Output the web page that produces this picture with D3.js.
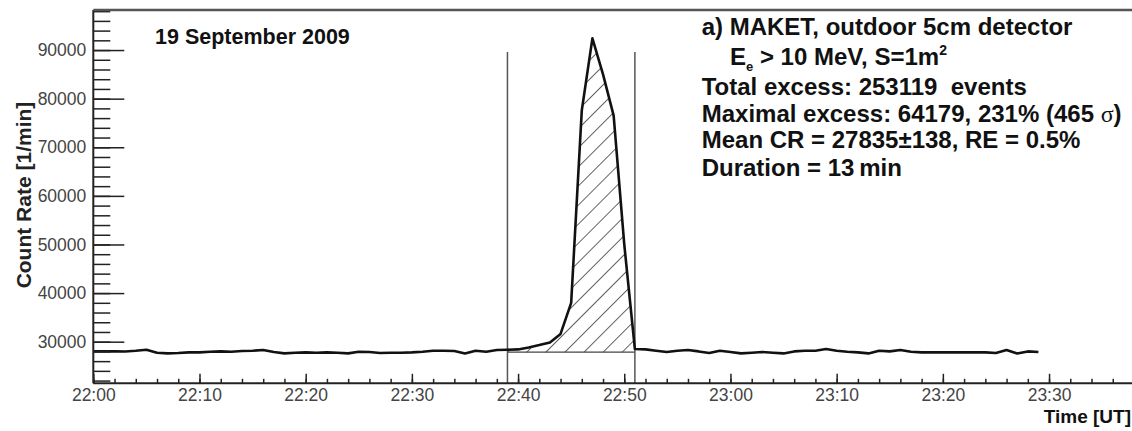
<!DOCTYPE html>
<html>
<head>
<meta charset="utf-8">
<script src="https://cdn.jsdelivr.net/npm/d3@7"></script>
<style>
  body { margin: 0; background: #fff; }
  svg { display: block; }
  text { font-family: "Liberation Sans", Arial, Helvetica, sans-serif; }
</style>
</head>
<body>
<svg id="chart" width="1132" height="431"></svg>
<script>
// ---- data (one value per minute, starting 22:00 UT) ----
const startTime = '2009-09-19T22:00:00Z';
const counts = [
  28000, 28000, 28000, 27990, 28140, 28350, 27730, 27590, 27660, 27800,
  27800, 27940, 28000, 27940, 28070, 28140, 28280, 27870, 27590, 27730,
  27800, 27730, 27800, 27730, 27590, 27940, 27870, 27660, 27730, 27730,
  27800, 27940, 28140, 28140, 28070, 27590, 28140, 27940, 28280, 28350,
  28410, 28820, 29300, 29850, 31600, 38000, 77600, 92400, 85000, 76500,
  50000, 28490, 28420, 28140, 27870, 28140, 28280, 28000, 27660, 28140,
  27870, 27590, 27730, 27870, 27730, 27590, 28000, 28140, 28140, 28490,
  28140, 27940, 27800, 27590, 28140, 28000, 28280, 27940, 27800, 27800,
  27800, 27800, 27800, 27800, 27800, 27660, 28280, 27590, 28000, 27870
];
const excessWindow = ['22:39', '22:51'];   // start / end of the enhancement
const windowLineTop = 89600;
const meanCR = 27835;

const yMajorTicks = [30000, 40000, 50000, 60000, 70000, 80000, 90000];
const yMinorTicks = d3.range(22000, 98001, 2000);
const xTickLabels = ['22:00', '22:10', '22:20', '22:30', '22:40', '22:50',
                     '23:00', '23:10', '23:20', '23:30'];
const xMinorLabels = d3.range(0, 98, 2).map(m =>
  d3.utcFormat('%H:%M')(new Date(Date.parse(startTime) + m * 60000)));

const dateLabel = '19 September 2009';
const infoLines = [
  'a) MAKET, outdoor 5cm detector',
  null, // E_e > 10 MeV, S=1m^2 (built with sub/superscript)
  'Total excess: 253119\u00a0 events',
  'Maximal excess: 64179, 231% (465 ',
  'Mean CR = 27835\u00b1138, RE = 0.5%',
  'Duration = 13\u2009min'
];

// ---- layout ----
const WIDTH = 1132, HEIGHT = 431;
const X0 = 93.3, X1 = 1134, YTOP = 10, YBOT = 383.3;

const toDate = hm => new Date(`2009-09-19T${hm}:00Z`);
const t0 = new Date(startTime);
const data = counts.map((v, i) => ({ t: new Date(+t0 + i * 60000), v }));

const svg = d3.select('#chart');

const x = d3.scaleUtc()
  .domain([toDate('22:00'), toDate('23:38')])
  .range([X0, X1]);

const y = d3.scaleLinear()
  .domain([21440, 98240])
  .range([YBOT, YTOP]);

// ---- hatch pattern ----
const defs = svg.append('defs');
defs.append('pattern')
  .attr('id', 'hatch')
  .attr('patternUnits', 'userSpaceOnUse')
  .attr('width', 13.5).attr('height', 13.5)
  .attr('patternTransform', 'rotate(-45)')
  .append('line')
  .attr('x1', 0).attr('y1', 0).attr('x2', 13.5).attr('y2', 0)
  .attr('stroke', '#222').attr('stroke-width', 1.4);

// ---- hatched excess area ----
const w0 = toDate(excessWindow[0]), w1 = toDate(excessWindow[1]);
const inWindow = data.filter(d => d.t >= w0 && d.t <= w1);

svg.append('path')
  .datum(inWindow)
  .attr('fill', 'url(#hatch)')
  .attr('d', d3.area()
    .x(d => x(d.t))
    .y0(y(meanCR))
    .y1(d => y(Math.max(d.v, meanCR))));

// mean count rate line under the peak
svg.append('line')
  .attr('x1', x(w0)).attr('x2', x(w1))
  .attr('y1', y(meanCR)).attr('y2', y(meanCR))
  .attr('stroke', '#444').attr('stroke-width', 1.2);

// window boundaries
svg.selectAll('.wline')
  .data([w0, w1])
  .join('line')
  .attr('class', 'wline')
  .attr('x1', d => x(d)).attr('x2', d => x(d))
  .attr('y1', y(windowLineTop)).attr('y2', YBOT)
  .attr('stroke', '#555').attr('stroke-width', 1.5);

// ---- count rate curve ----
svg.append('path')
  .datum(data)
  .attr('fill', 'none')
  .attr('stroke', '#111')
  .attr('stroke-width', 2.6)
  .attr('stroke-linejoin', 'round')
  .attr('d', d3.line().x(d => x(d.t)).y(d => y(d.v)));

// ---- axes ----
const axisColor = '#222';
const labelColor = '#444';

// y minor
svg.append('g')
  .attr('transform', `translate(${X0},0)`)
  .call(d3.axisLeft(y).tickValues(yMinorTicks).tickSize(-17).tickSizeOuter(0).tickFormat(''))
  .call(g => g.select('.domain').remove())
  .selectAll('line').attr('stroke', axisColor).attr('stroke-width', 1.5);

// y major
svg.append('g')
  .attr('transform', `translate(${X0},0)`)
  .call(d3.axisLeft(y).tickValues(yMajorTicks).tickSize(-31).tickSizeOuter(0).tickPadding(7)
    .tickFormat(d3.format('d')))
  .call(g => g.select('.domain').remove())
  .call(g => g.selectAll('line').attr('stroke', axisColor).attr('stroke-width', 1.5))
  .call(g => g.selectAll('text')
    .attr('fill', labelColor)
    .attr('font-size', '17.5px')
    .attr('font-family', '"Liberation Sans", Arial, sans-serif'));

// x minor
svg.append('g')
  .attr('transform', `translate(0,${YBOT})`)
  .call(d3.axisBottom(x).tickValues(xMinorLabels.map(toDate)).tickSize(-4.5).tickSizeOuter(0).tickFormat(''))
  .call(g => g.select('.domain').remove())
  .selectAll('line').attr('stroke', axisColor).attr('stroke-width', 1.5);

// x major
svg.append('g')
  .attr('transform', `translate(0,${YBOT})`)
  .call(d3.axisBottom(x).tickValues(xTickLabels.map(toDate)).tickSize(-9.5).tickSizeOuter(0)
    .tickPadding(5).tickFormat(d3.utcFormat('%H:%M')))
  .call(g => g.select('.domain').remove())
  .call(g => g.selectAll('line').attr('stroke', axisColor).attr('stroke-width', 1.5))
  .call(g => g.selectAll('text')
    .attr('fill', labelColor)
    .attr('font-size', '17.5px')
    .attr('font-family', '"Liberation Sans", Arial, sans-serif'));

// frame lines
svg.append('line')
  .attr('x1', X0).attr('x2', WIDTH).attr('y1', YBOT).attr('y2', YBOT)
  .attr('stroke', axisColor).attr('stroke-width', 2);
svg.append('line')
  .attr('x1', X0).attr('x2', X0).attr('y1', YTOP).attr('y2', YBOT)
  .attr('stroke', axisColor).attr('stroke-width', 2);
svg.append('line')
  .attr('x1', X0).attr('x2', WIDTH).attr('y1', YTOP).attr('y2', YTOP)
  .attr('stroke', '#555').attr('stroke-width', 2.5);

// axis titles
svg.append('text')
  .attr('transform', 'translate(30.5,101.7) rotate(-90)')
  .attr('text-anchor', 'end')
  .attr('font-weight', 'bold')
  .attr('font-size', '21px')
  .attr('fill', '#222')
  .text('Count Rate [1/min]');

svg.append('text')
  .attr('x', 1131).attr('y', 423)
  .attr('text-anchor', 'end')
  .attr('font-weight', 'bold')
  .attr('font-size', '19px')
  .attr('fill', '#111')
  .text('Time [UT]');

// ---- annotations ----
svg.append('text')
  .attr('x', 155).attr('y', 44)
  .attr('font-weight', 'bold')
  .attr('font-size', '21.5px')
  .attr('fill', '#111')
  .text(dateLabel);

const info = svg.append('g')
  .attr('font-weight', 'bold')
  .attr('font-size', '24px')
  .attr('fill', '#111');

const baselines = [34.5, 65, 95, 121.7, 148, 175.7];

infoLines.forEach((s, i) => {
  if (s === null) return;
  const t = info.append('text').attr('x', 701.7).attr('y', baselines[i]).text(s);
  if (i === 3) {
    t.append('tspan')
      .attr('font-family', '"Liberation Serif", "DejaVu Serif", serif')
      .attr('font-weight', 'normal')
      .text('\u03c3');
    t.append('tspan').text(')');
  }
});

// E_e > 10 MeV, S=1m^2
const eLine = info.append('text').attr('x', 730).attr('y', baselines[1]);
eLine.append('tspan').text('E');
eLine.append('tspan').attr('font-size', '13px').attr('dy', 6).text('e');
eLine.append('tspan').attr('dy', -6).text(' > 10 MeV, S=1m');
eLine.append('tspan').attr('font-size', '14px').attr('dy', -10).text('2');
</script>
</body>
</html>
